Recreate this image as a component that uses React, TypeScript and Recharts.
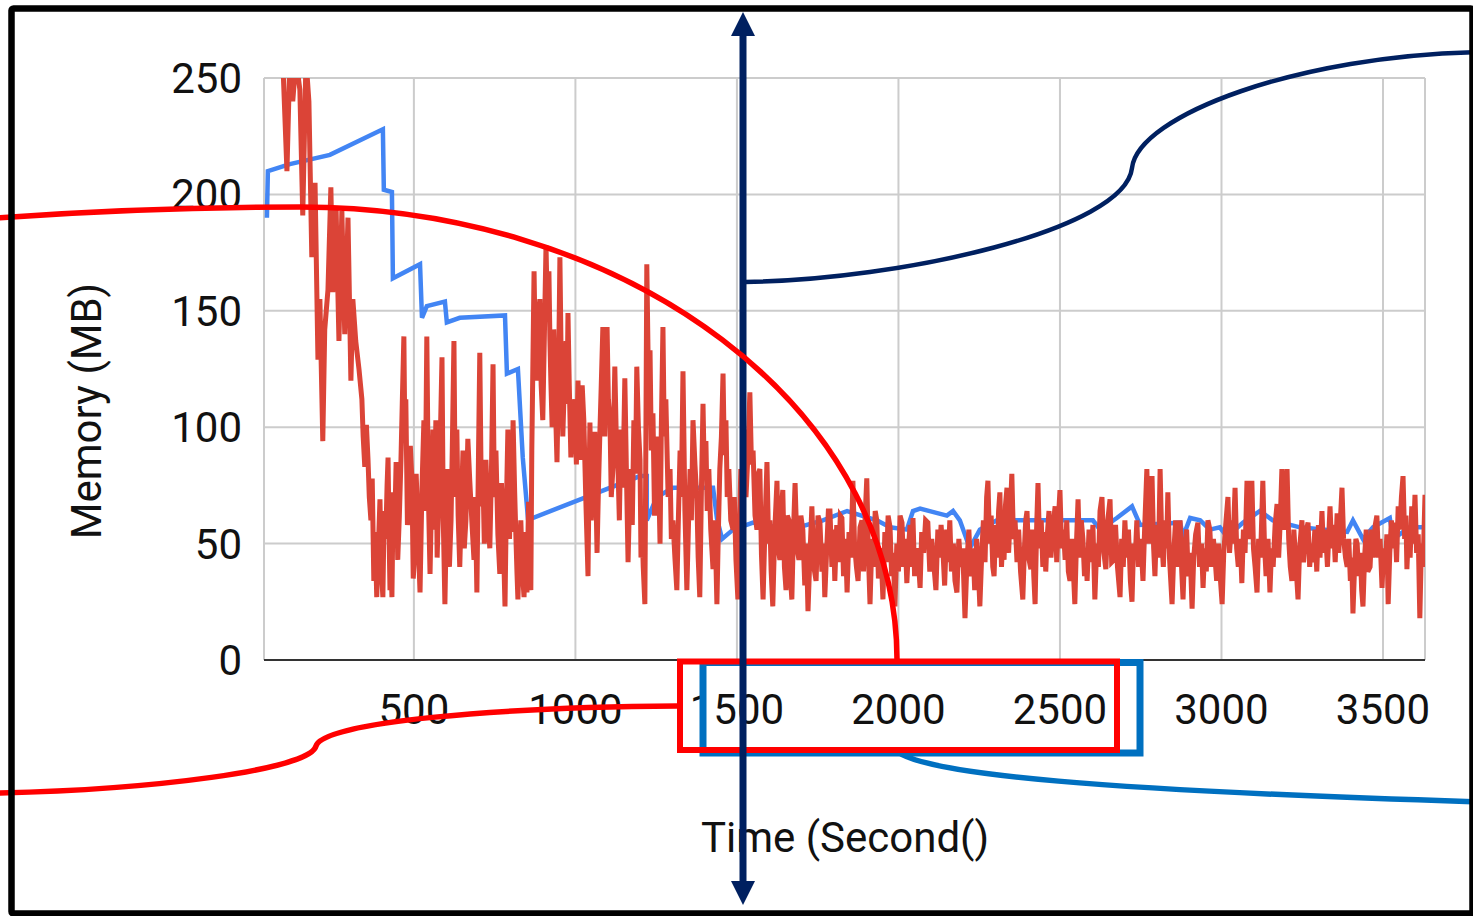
import { LineChart, Line, XAxis, YAxis, CartesianGrid } from "recharts";

// [time (s), memory (MB)]
const blueTrace: [number, number][] = [
  [45, 190], [48, 210], [116, 213], [240, 217], [404, 228], [407, 202], [432, 201], [435, 164], [519, 170], [525, 147],
  [540, 152], [596, 154], [602, 145], [642, 147], [782, 148], [788, 123], [822, 125], [837, 87], [853, 61], [868, 61],
  [1200, 79], [1221, 79], [1221, 60], [1252, 70], [1302, 74], [1426, 74], [1438, 61], [1454, 52], [1488, 56], [1550, 59],
  [1664, 56], [1766, 60], [1841, 64], [1933, 60], [1974, 57], [2026, 56], [2045, 64], [2067, 65], [2150, 62], [2169, 64],
  [2190, 60], [2221, 48], [2252, 56], [2305, 60], [2540, 60], [2602, 60], [2624, 56], [2676, 61], [2723, 66], [2748, 58],
  [2872, 59], [2881, 53], [2903, 61], [2934, 60], [2964, 56], [2995, 57], [3017, 53], [3067, 59], [3119, 64], [3159, 60],
  [3243, 57], [3389, 55], [3407, 60], [3438, 52], [3469, 57], [3521, 61], [3531, 52], [3583, 57], [3630, 57],
];

// first ~1500 s: start-up phase
const redStartup: [number, number][] = [
  [94, 258], [107, 210], [116, 258], [125, 240], [135, 258], [147, 245], [156, 191], [166, 258], [175, 240], [184, 173],
  [194, 205], [203, 129], [209, 155], [218, 94], [224, 142], [234, 159], [243, 203], [249, 158], [259, 195], [268, 137],
  [277, 193], [286, 140], [296, 190], [305, 120], [311, 155], [320, 137], [330, 125],
  [339, 112], [343, 96], [348, 83], [353, 101], [358, 86], [362, 70], [367, 60], [371, 78], [376, 34], [380, 55],
  [385, 27], [390, 48], [395, 69], [399, 40], [404, 27], [408, 64], [413, 52], [417, 75], [420, 87], [423, 55],
  [426, 30], [429, 46], [432, 27], [436, 72], [441, 60], [445, 85], [450, 43], [455, 62], [460, 86], [464, 110],
  [469, 139], [472, 95], [475, 112], [480, 58], [485, 69], [489, 92], [494, 77], [498, 35], [503, 47], [507, 80],
  [512, 60], [515, 45], [519, 29], [525, 74], [531, 103], [535, 64], [540, 139], [545, 70], [550, 37], [554, 65],
  [559, 99], [563, 56], [568, 103], [572, 44], [577, 69], [582, 96], [587, 130], [591, 60], [596, 24], [600, 55],
  [605, 82], [610, 40], [615, 60], [619, 92], [624, 137], [628, 70], [633, 99], [637, 62], [642, 40], [647, 66],
  [652, 90], [656, 48], [661, 60], [667, 95], [673, 77], [680, 58], [686, 43], [690, 70], [695, 29], [700, 88],
  [704, 132], [709, 66], [714, 77], [718, 50], [723, 86], [729, 62], [735, 48], [740, 80], [745, 127], [749, 70],
  [754, 90], [760, 54], [766, 37], [771, 76], [776, 60], [779, 40], [782, 23], [786, 64], [791, 99], [796, 52],
  [800, 77], [804, 55], [807, 103], [812, 72], [816, 52], [819, 38], [822, 26], [827, 48], [831, 60], [836, 38],
  [841, 27], [845, 55], [850, 29], [855, 68], [859, 43], [862, 30], [865, 90],
  [872, 167], [876, 130], [881, 120], [885, 148], [890, 155], [894, 118], [899, 103], [904, 140], [909, 178], [913, 150],
  [918, 167], [921, 138], [924, 120], [928, 100], [933, 142], [938, 110], [943, 85], [948, 125], [952, 173], [956, 128],
  [961, 96], [966, 120], [971, 137], [974, 110], [977, 149], [981, 118], [986, 87], [992, 105], [998, 112], [1003, 84],
  [1008, 120], [1012, 95], [1017, 86], [1021, 118], [1026, 103], [1032, 70], [1039, 36], [1042, 76], [1045, 102], [1049, 60],
  [1054, 77], [1060, 98], [1067, 46], [1071, 72], [1076, 99], [1080, 118], [1085, 143], [1091, 96], [1098, 143], [1102, 112],
  [1107, 103], [1111, 70], [1116, 82], [1119, 104], [1122, 126], [1127, 92], [1132, 82], [1136, 60], [1141, 99], [1147, 74],
  [1153, 121], [1158, 80], [1163, 42], [1167, 66], [1172, 82], [1176, 58], [1181, 103], [1186, 80], [1190, 126], [1195, 100],
  [1200, 86], [1203, 44], [1206, 60], [1210, 40], [1215, 24], [1218, 90], [1221, 170], [1226, 120], [1231, 133], [1235, 90],
  [1240, 106], [1245, 62], [1249, 77], [1255, 96], [1262, 50], [1266, 100], [1271, 143], [1275, 96], [1280, 112], [1287, 70],
  [1293, 82], [1297, 52], [1302, 60], [1308, 44], [1314, 30], [1319, 62], [1324, 90], [1328, 70], [1333, 124], [1339, 64],
  [1345, 30], [1350, 58], [1355, 82], [1359, 60], [1364, 103], [1370, 84], [1376, 69], [1380, 44], [1385, 27], [1390, 72],
  [1395, 110], [1399, 80], [1404, 94], [1408, 64], [1413, 82], [1419, 56], [1426, 39], [1432, 60], [1438, 24], [1442, 52],
  [1447, 82], [1452, 96], [1457, 123], [1461, 88], [1466, 103], [1470, 70], [1475, 82], [1481, 60], [1488, 56], [1492, 70],
  [1497, 43],
];

// after ~1500 s: steady state
const redSteady: [number, number][] = [
  [1503, 26], [1512, 82], [1518, 60], [1522, 99], [1528, 70], [1534, 88], [1540, 115], [1545, 84], [1550, 90], [1556, 62],
  [1562, 56], [1566, 80], [1571, 82], [1576, 45], [1581, 26], [1587, 58], [1593, 85], [1598, 50], [1602, 60], [1606, 38],
  [1611, 23], [1617, 55], [1624, 77], [1628, 48], [1633, 43], [1638, 66], [1642, 73], [1647, 40], [1652, 30], [1656, 62],
  [1661, 60], [1666, 35], [1670, 26], [1675, 55], [1680, 76], [1686, 48], [1692, 43], [1698, 62], [1704, 56], [1710, 32],
  [1715, 50], [1720, 21], [1726, 45], [1732, 66], [1738, 40], [1745, 34], [1751, 62], [1757, 59], [1763, 38], [1768, 50],
  [1772, 27], [1778, 48], [1783, 64], [1788, 64], [1794, 40], [1799, 56], [1803, 34], [1809, 58], [1815, 42], [1820, 62],
  [1825, 61], [1830, 36], [1836, 52], [1841, 29], [1847, 55], [1853, 44], [1859, 77], [1864, 50], [1870, 40], [1875, 34],
  [1881, 57], [1887, 60], [1892, 38], [1897, 62], [1902, 78], [1907, 45], [1912, 24], [1918, 52], [1923, 40], [1928, 64],
  [1933, 60], [1938, 35], [1943, 48], [1948, 40], [1952, 26], [1958, 55], [1963, 42], [1968, 62], [1974, 57], [1979, 36],
  [1984, 46], [1989, 23], [1995, 50], [2000, 38], [2005, 62], [2011, 59], [2016, 40], [2021, 52], [2026, 33], [2031, 48],
  [2036, 58], [2040, 40], [2045, 61], [2050, 36], [2056, 48], [2061, 44], [2067, 31], [2072, 55], [2078, 46], [2084, 60],
  [2091, 59], [2097, 38], [2103, 52], [2109, 42], [2116, 30], [2122, 56], [2127, 44], [2132, 58], [2138, 46], [2143, 32],
  [2149, 56], [2154, 42], [2159, 60], [2164, 38], [2170, 50], [2175, 34], [2181, 29], [2187, 52], [2193, 40], [2199, 48],
  [2206, 18], [2212, 42], [2218, 56], [2224, 36], [2231, 48], [2236, 30], [2242, 52], [2247, 40], [2252, 23], [2258, 46],
  [2263, 60], [2268, 42], [2273, 70], [2277, 77], [2282, 50], [2287, 62], [2292, 40], [2296, 36], [2301, 58], [2306, 44],
  [2310, 64], [2314, 72], [2319, 40], [2323, 52], [2327, 43], [2331, 66], [2336, 74], [2341, 46], [2346, 62], [2351, 80],
  [2356, 52], [2361, 60], [2367, 42], [2372, 56], [2378, 38], [2385, 26], [2390, 48], [2394, 60], [2398, 64], [2403, 44],
  [2410, 39], [2415, 56], [2419, 36], [2423, 24], [2428, 58], [2432, 76], [2437, 48], [2442, 60], [2447, 40], [2452, 55],
  [2456, 38], [2460, 52], [2466, 64], [2472, 44], [2479, 58], [2485, 66], [2490, 42], [2495, 60], [2500, 73], [2505, 48],
  [2511, 56], [2516, 43], [2521, 60], [2526, 38], [2531, 34], [2536, 52], [2541, 40], [2546, 24], [2551, 50], [2556, 69],
  [2561, 44], [2566, 60], [2571, 52], [2576, 36], [2580, 48], [2584, 34], [2590, 56], [2596, 42], [2602, 58], [2608, 26],
  [2614, 50], [2619, 40], [2624, 64], [2630, 70], [2636, 46], [2642, 39], [2648, 60], [2655, 69], [2660, 42], [2667, 43],
  [2672, 58], [2678, 40], [2686, 27], [2691, 52], [2696, 40], [2701, 60], [2706, 44], [2712, 56], [2718, 34], [2723, 25],
  [2728, 50], [2733, 44], [2738, 60], [2743, 40], [2750, 52], [2757, 34], [2762, 56], [2769, 82], [2774, 50], [2780, 62],
  [2785, 79], [2790, 48], [2794, 36], [2799, 58], [2805, 44], [2810, 82], [2815, 52], [2820, 40], [2825, 60], [2830, 48],
  [2834, 72], [2839, 44], [2843, 34], [2847, 24], [2853, 48], [2858, 60], [2863, 40], [2868, 52], [2872, 60], [2877, 38],
  [2881, 26], [2886, 48], [2892, 56], [2897, 36], [2903, 46], [2909, 22], [2914, 44], [2920, 54], [2927, 59], [2932, 40],
  [2938, 50], [2943, 31], [2948, 48], [2953, 38], [2958, 60], [2964, 56], [2969, 40], [2975, 52], [2980, 44], [2985, 34],
  [2991, 50], [2996, 36], [3002, 24], [3007, 46], [3013, 58], [3020, 70], [3025, 46], [3031, 60], [3036, 50], [3042, 74],
  [3047, 48], [3052, 40], [3058, 52], [3063, 33], [3068, 56], [3073, 46], [3079, 77], [3084, 52], [3089, 60], [3094, 77],
  [3099, 48], [3104, 40], [3110, 29], [3115, 52], [3121, 44], [3128, 77], [3133, 50], [3138, 36], [3144, 52], [3150, 29],
  [3155, 48], [3160, 40], [3166, 58], [3172, 67], [3177, 44], [3182, 60], [3187, 82], [3192, 56], [3198, 62], [3203, 82],
  [3208, 52], [3213, 40], [3218, 34], [3224, 56], [3230, 42], [3237, 26], [3242, 48], [3249, 60], [3254, 42], [3260, 54],
  [3268, 59], [3273, 40], [3278, 50], [3283, 42], [3289, 56], [3295, 38], [3300, 58], [3305, 44], [3311, 64], [3316, 46],
  [3322, 56], [3328, 40], [3336, 66], [3341, 48], [3347, 58], [3352, 42], [3358, 63], [3363, 46], [3368, 60], [3373, 74],
  [3378, 52], [3384, 44], [3389, 40], [3394, 52], [3399, 34], [3403, 44], [3407, 20], [3412, 40], [3416, 52], [3420, 50],
  [3425, 36], [3430, 46], [3434, 30], [3438, 23], [3443, 44], [3448, 56], [3453, 38], [3460, 40], [3465, 56], [3470, 44],
  [3476, 58], [3481, 62], [3486, 44], [3491, 52], [3497, 31], [3502, 48], [3507, 40], [3512, 54], [3516, 24], [3521, 46],
  [3526, 60], [3532, 48], [3537, 59], [3542, 42], [3547, 66], [3552, 56], [3557, 70], [3562, 79], [3567, 52], [3571, 62],
  [3574, 39], [3579, 56], [3584, 44], [3589, 66], [3594, 50], [3599, 71], [3604, 46], [3609, 54], [3614, 18], [3619, 50],
  [3624, 40], [3630, 71],
];

const xTicks = [500, 1000, 1500, 2000, 2500, 3000, 3500];
const yTicks = [0, 50, 100, 150, 200, 250];

const blueData = blueTrace.map(([t, mem]) => ({ t, mem }));
const redData = [...redStartup, ...redSteady].map(([t, mem]) => ({ t, mem }));

const FONT = "Roboto, 'Noto Sans', sans-serif";
const NAVY = "#002060";

export default function App() {
  return (
    <div style={{ position: "fixed", left: 0, top: 0, width: 1473, height: 916, background: "#fff" }}>
      <div style={{ position: "absolute", left: 0, top: 0 }}>
        <LineChart width={1473} height={916} margin={{ top: 78, right: 48, bottom: 216, left: 164 }}>
          <CartesianGrid stroke="#cccccc" strokeWidth={2} />
          <XAxis type="number" dataKey="t" domain={[36, 3630]} allowDataOverflow ticks={xTicks}
            height={40} tickSize={6} tickMargin={28} tickLine={false}
            axisLine={{ stroke: "#333", strokeWidth: 2 }}
            tick={{ fill: "#111", fontSize: 42, fontFamily: FONT }} />
          <YAxis type="number" domain={[0, 250]} allowDataOverflow ticks={yTicks}
            width={100} tickSize={6} tickMargin={16} tickLine={false} axisLine={false}
            tick={{ fill: "#111", fontSize: 42, fontFamily: FONT }} />
          <Line data={blueData} dataKey="mem" type="linear" stroke="#4285F4" strokeWidth={4.5} dot={false} isAnimationActive={false} />
          <Line data={redData} dataKey="mem" type="linear" stroke="#DB4437" strokeWidth={5} dot={false} isAnimationActive={false} />
        </LineChart>
      </div>

      {/* titles + annotations drawn over the chart */}
      <svg width={1473} height={916} style={{ position: "absolute", left: 0, top: 0, pointerEvents: "none" }}>
        <text x={101} y={411} transform="rotate(-90 101 411)" textAnchor="middle"
          fontFamily={FONT} fontSize={42} fill="#111">Memory (MB)</text>
        <text x={845} y={852} textAnchor="middle" fontFamily={FONT} fontSize={42} fill="#111">Time (Second()</text>

        <rect x={703} y={662.5} width={437} height={90.5} fill="none" stroke="#0070C0" strokeWidth={7} />
        <path d="M 898 752 C 930 775, 1100 790, 1480 802" fill="none" stroke="#0070C0" strokeWidth={5.5} />
        <rect x={680} y={661.5} width={437} height={88.5} fill="none" stroke="#FF0000" strokeWidth={6} />
        <path d="M 677 706 C 500 707, 322 722, 316 746 C 310 770, 150 790, -5 793" fill="none" stroke="#FF0000" strokeWidth={5.5} />

        <line x1={743} y1={30} x2={743} y2={886} stroke={NAVY} strokeWidth={7} />
        <polygon points="743,12 731,36 755,36" fill={NAVY} />
        <polygon points="743,905 731,881 755,881" fill={NAVY} />
        <path d="M 745 282 C 900 280, 1125 230, 1132 168 C 1138 115, 1300 55, 1480 52" fill="none" stroke={NAVY} strokeWidth={4.5} />

        <path d="M -5 218 Q 150 207 300 207 A 597 453 0 0 1 897 660" fill="none" stroke="#FF0000" strokeWidth={5.5} />

        <rect x={11.5} y={8.5} width={1461} height={905} rx={2} fill="none" stroke="#000" strokeWidth={6.5} />
      </svg>
    </div>
  );
}
